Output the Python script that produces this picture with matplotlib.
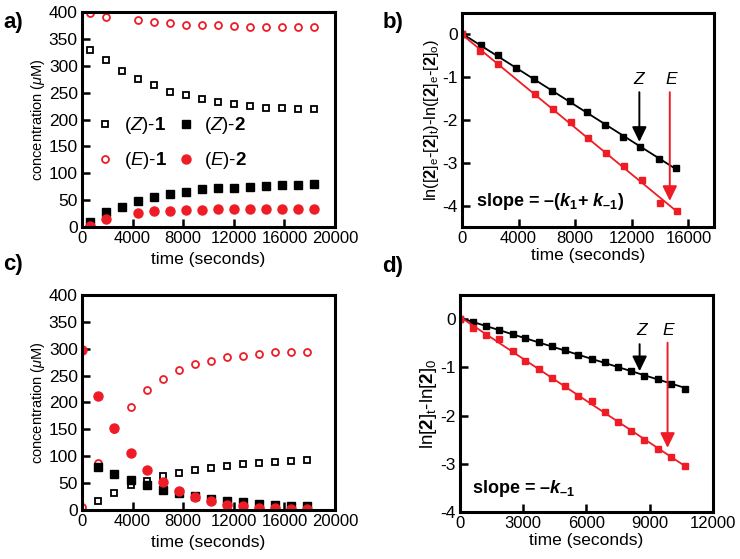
import numpy as np
import matplotlib
matplotlib.use('Agg')
import matplotlib.pyplot as plt

plt.rcParams['font.family'] = ['Liberation Sans', 'DejaVu Sans']
plt.rcParams['mathtext.fontset'] = 'custom'
plt.rcParams['mathtext.rm'] = 'Liberation Sans'
plt.rcParams['mathtext.it'] = 'Liberation Sans:italic'
plt.rcParams['mathtext.bf'] = 'Liberation Sans:bold'
plt.rcParams['mathtext.bfit'] = 'Liberation Sans:bold:italic'
plt.rcParams['axes.unicode_minus'] = False

RED = '#ee1c25'
BLACK = '#000000'

# --- panel a: concentrations, starting from (Z) isomers ---
t_a = [630, 1900, 3160, 4430, 5690, 6960, 8220, 9490, 10750, 12020, 13280, 14550, 15810, 17080, 18340]
t_a_e = [630, 1900, 4430, 5690, 6960, 8220, 9490, 10750, 12020, 13280, 14550, 15810, 17080, 18340]
z1_a = [329, 310, 291, 276, 264, 251, 245, 238, 233, 229, 226, 222, 221, 219, 219]
z2_a = [10, 27, 38, 48, 55, 62, 66, 71, 72, 73, 75, 76, 78, 78, 80]
e1_a = [398, 391, 386, 381, 379, 376, 376, 375, 374, 373, 372, 372, 372, 372]
e2_a = [2, 14, 26, 29, 30, 31, 32, 33, 34, 34, 34, 34, 34, 34]

# --- panel b: first-order plot ---
t_bz = [0, 1320, 2530, 3820, 5080, 6330, 7600, 8850, 10120, 11360, 12610, 13920, 15150]
y_bz = [0, -0.24, -0.49, -0.78, -1.05, -1.32, -1.56, -1.82, -2.12, -2.39, -2.62, -2.91, -3.12]
t_be = [0, 1250, 2530, 5130, 6400, 7670, 8920, 10160, 11450, 12700, 13970, 15200]
y_be = [0, -0.38, -0.70, -1.39, -1.74, -2.05, -2.43, -2.78, -3.08, -3.39, -3.95, -4.12]

# --- panel c: concentrations, starting from (E)-2 ---
t_c = [0, 1290, 2540, 3850, 5160, 6430, 7690, 8930, 10200, 11440, 12700, 13990, 15260, 16500, 17760]
e1_c = [6, 87, 150, 191, 223, 244, 260, 272, 277, 284, 287, 290, 293, 293, 293]
e2_c = [298, 212, 152, 106, 75, 52, 35, 24, 16, 10, 7, 4, 3, 2, 1]
z1_c = [17, 32, 46, 54, 63, 69, 74, 78, 82, 86, 88, 90, 91, 93]
z2_c = [80, 67, 55, 47, 38, 32, 26, 20, 17, 14, 12, 10, 8, 7]

# --- panel d: ln[2]t - ln[2]0 ---
t_d = [0, 600, 1250, 1870, 2500, 3100, 3730, 4360, 5000, 5620, 6240, 6870, 7490, 8120, 8750, 9380, 10000, 10650]
y_dz = [0, -0.07, -0.14, -0.23, -0.31, -0.39, -0.47, -0.56, -0.65, -0.74, -0.82, -0.90, -0.99, -1.08, -1.17, -1.25, -1.34, -1.44]
y_de = [0, -0.18, -0.33, -0.41, -0.66, -0.86, -1.03, -1.23, -1.39, -1.60, -1.69, -1.93, -2.14, -2.32, -2.50, -2.69, -2.87, -3.05]

fig = plt.figure(figsize=(7.4, 5.59), dpi=100)
ax_a = fig.add_axes([0.1108, 0.5939, 0.3419, 0.3846])
ax_b = fig.add_axes([0.6243, 0.5939, 0.3405, 0.3828])
ax_c = fig.add_axes([0.1108, 0.0877, 0.3419, 0.3846])
ax_d = fig.add_axes([0.6216, 0.0841, 0.3419, 0.3882])


def style(ax):
    for s in ax.spines.values():
        s.set_linewidth(2.2)
    ax.tick_params(direction='in', length=6, width=1.8, top=False, right=False, pad=3)
    ax.tick_params(axis='x', labelsize=12)
    ax.tick_params(axis='y', labelsize=12.5)


def conc_panel(ax, t, te, z1, z2, e1, e2, legend=False):
    ax.plot(t[-len(z1):], z1, 's', ms=5, mfc='none', mec=BLACK, mew=1.3, ls='none',
            label=r'$\mathit{(Z)}$-$\mathbf{1}$')
    ax.plot(te[-len(e1):], e1, 'o', ms=5, mfc='none', mec=RED, mew=1.3,
            ls='none', label=r'$\mathit{(E)}$-$\mathbf{1}$')
    ax.plot(t[-len(z2):], z2, 's', ms=6, color=BLACK, ls='none',
            label=r'$\mathit{(Z)}$-$\mathbf{2}$')
    ax.plot(te[-len(e2):], e2, 'o', ms=6.5, color=RED, ls='none',
            label=r'$\mathit{(E)}$-$\mathbf{2}$')
    ax.set_xlim(0, 20000)
    ax.set_ylim(0, 400)
    ax.set_xticks(np.arange(0, 20001, 4000))
    ax.set_yticks(np.arange(0, 401, 50))
    ax.set_xlabel('time (seconds)', fontsize=12.5, labelpad=4)
    ax.set_ylabel(r'concentration ($\mu$M)', fontsize=10.5, labelpad=1)
    style(ax)
    if legend:
        ax.legend(ncol=2, loc='center left', bbox_to_anchor=(-0.005, 0.39), frameon=False,
                  fontsize=13.5, handlelength=0.8, handletextpad=0.6, columnspacing=0.6,
                  labelspacing=0.75)


conc_panel(ax_a, t_a, t_a_e, z1_a, z2_a, e1_a, e2_a, legend=True)
conc_panel(ax_c, t_c, t_c, z1_c, z2_c, e1_c, e2_c)


def fit_line(ax, t, y, color):
    k, b0 = np.polyfit(t, y, 1)
    tt = np.array([0, t[-1]])
    ax.plot(tt, k * tt + b0, color=color, lw=1.3)
    ax.plot(t, y, 's', ms=4.5, color=color, ls='none')


def arrow(ax, x, y0, y1, color):
    ax.annotate('', xy=(x, y1), xytext=(x, y0),
                arrowprops=dict(arrowstyle='-|>,head_length=0.45,head_width=0.22',
                                color=color, lw=1.4, mutation_scale=20,
                                shrinkA=0, shrinkB=0))


# panel b
fit_line(ax_b, t_bz, y_bz, BLACK)
fit_line(ax_b, t_be, y_be, RED)
ax_b.set_xlim(0, 17800)
ax_b.set_ylim(-4.5, 0.5)
ax_b.set_xticks(np.arange(0, 16001, 4000))
ax_b.set_yticks([0, -1, -2, -3, -4])
ax_b.set_xlabel('time (seconds)', fontsize=12.5, labelpad=1)
ax_b.set_ylabel(r'ln($[\mathbf{2}]_{\rm e}$-$[\mathbf{2}]_{\rm t}$)-ln($[\mathbf{2}]_{\rm e}$-$[\mathbf{2}]_{\rm o}$)',
                fontsize=11.8, labelpad=1)
style(ax_b)
arrow(ax_b, 12530, -1.35, -2.51, BLACK)
arrow(ax_b, 14680, -1.35, -3.89, RED)
ax_b.text(12450, -1.05, 'Z', style='italic', fontsize=12.5, ha='center', va='center')
ax_b.text(14800, -1.05, 'E', style='italic', fontsize=12.5, ha='center', va='center')
ax_b.text(1000, -3.9, r'slope = –($\mathbfit{k}_{\mathbf{1}}$+ $\mathbfit{k}_{\mathbf{–1}}$)',
          fontsize=13, fontweight='bold', ha='left', va='center')

# panel d
fit_line(ax_d, t_d, y_dz, BLACK)
fit_line(ax_d, t_d, y_de, RED)
ax_d.set_xlim(0, 12000)
ax_d.set_ylim(-4, 0.5)
ax_d.set_xticks(np.arange(0, 12001, 3000))
ax_d.set_yticks([0, -1, -2, -3, -4])
ax_d.set_xlabel('time (seconds)', fontsize=12.5, labelpad=1)
ax_d.set_ylabel(r'ln$[\mathbf{2}]_{\rm t}$-ln$[\mathbf{2}]_{\rm 0}$', fontsize=13.5, labelpad=1)
style(ax_d)
arrow(ax_d, 8520, -0.52, -1.08, BLACK)
arrow(ax_d, 9845, -0.49, -2.67, RED)
ax_d.text(8600, -0.24, 'Z', style='italic', fontsize=12.5, ha='center', va='center')
ax_d.text(9880, -0.24, 'E', style='italic', fontsize=12.5, ha='center', va='center')
ax_d.text(560, -3.52, r'slope = –$\mathbfit{k}_{\mathbf{–1}}$',
          fontsize=13, fontweight='bold', ha='left', va='center')

# panel letters
for lab, x, y in [('a)', 0.004, 0.96), ('b)', 0.517, 0.96), ('c)', 0.004, 0.527), ('d)', 0.517, 0.524)]:
    fig.text(x, y, lab, fontsize=16, fontweight='bold', ha='left', va='center')

fig.savefig('out.png', dpi=100)
